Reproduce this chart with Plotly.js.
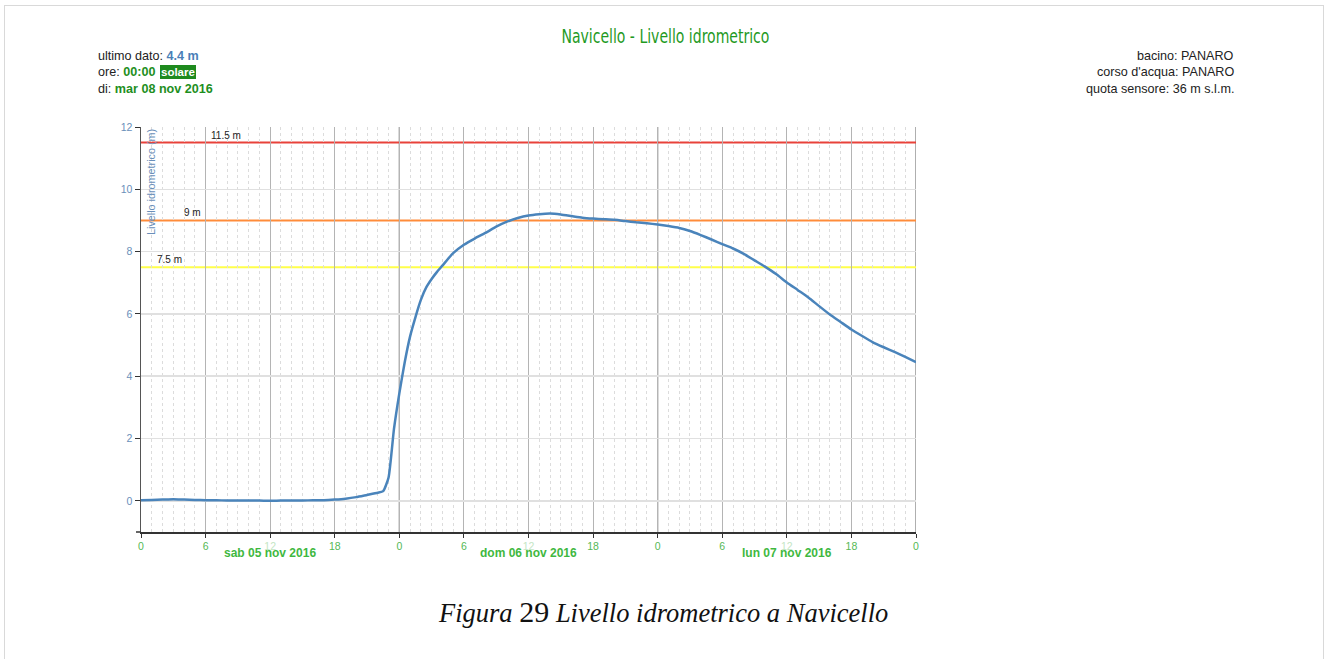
<!DOCTYPE html>
<html>
<head>
<meta charset="utf-8">
<script src="https://cdn.plot.ly/plotly-3.0.1.min.js"></script>
<style>
  html, body { margin: 0; padding: 0; background: #fff; }
  #wrap { position: relative; width: 1328px; height: 659px; overflow: hidden; }
  #chart { position: absolute; left: 0; top: 0; width: 1328px; height: 659px; }
  #frame { position: absolute; left: 4px; top: 5px; width: 1318px; height: 700px;
           border: 1px solid #d9d9d9; pointer-events: none; z-index: 10; }
</style>
</head>
<body>
<div id="wrap"><div id="chart"></div><div id="frame"></div></div>
<script>
// ---- data ----
const times = [
  "2016-11-05 00:00","2016-11-05 01:00","2016-11-05 02:00","2016-11-05 03:00","2016-11-05 04:00",
  "2016-11-05 05:00","2016-11-05 06:00","2016-11-05 07:00","2016-11-05 08:00","2016-11-05 09:00",
  "2016-11-05 10:00","2016-11-05 11:00","2016-11-05 12:00","2016-11-05 13:00","2016-11-05 14:00",
  "2016-11-05 15:00","2016-11-05 16:00","2016-11-05 17:00","2016-11-05 18:00","2016-11-05 19:00",
  "2016-11-05 20:00","2016-11-05 21:00","2016-11-05 22:00","2016-11-05 22:30","2016-11-05 23:00",
  "2016-11-05 23:30","2016-11-06 00:00","2016-11-06 00:30","2016-11-06 01:00","2016-11-06 01:30",
  "2016-11-06 02:00","2016-11-06 02:30","2016-11-06 03:00","2016-11-06 03:30","2016-11-06 04:00",
  "2016-11-06 05:00","2016-11-06 06:00","2016-11-06 07:00","2016-11-06 08:00","2016-11-06 09:00",
  "2016-11-06 10:00","2016-11-06 11:00","2016-11-06 12:00","2016-11-06 13:00","2016-11-06 14:00",
  "2016-11-06 15:00","2016-11-06 16:00","2016-11-06 17:00","2016-11-06 18:00","2016-11-06 19:00",
  "2016-11-06 20:00","2016-11-06 21:00","2016-11-06 22:00","2016-11-06 23:00","2016-11-07 00:00",
  "2016-11-07 01:00","2016-11-07 02:00","2016-11-07 03:00","2016-11-07 04:00","2016-11-07 05:00",
  "2016-11-07 06:00","2016-11-07 07:00","2016-11-07 08:00","2016-11-07 09:00","2016-11-07 10:00",
  "2016-11-07 11:00","2016-11-07 12:00","2016-11-07 13:00","2016-11-07 14:00","2016-11-07 15:00",
  "2016-11-07 16:00","2016-11-07 17:00","2016-11-07 18:00","2016-11-07 19:00","2016-11-07 20:00",
  "2016-11-07 21:00","2016-11-07 22:00","2016-11-07 23:00","2016-11-08 00:00"
];
const levels = [
  0.02,0.03,0.04,0.05,0.04,
  0.03,0.02,0.02,0.01,0.01,
  0.01,0.01,0.00,0.01,0.01,
  0.01,0.02,0.02,0.04,0.07,
  0.12,0.19,0.26,0.31,0.75,
  2.30,3.45,4.45,5.28,5.90,
  6.45,6.85,7.12,7.35,7.55,
  7.95,8.22,8.42,8.60,8.80,
  8.96,9.08,9.16,9.20,9.22,
  9.19,9.14,9.09,9.06,9.04,
  9.02,8.98,8.94,8.91,8.87,
  8.82,8.76,8.66,8.53,8.39,
  8.24,8.10,7.93,7.72,7.51,
  7.28,7.01,6.77,6.53,6.25,
  5.98,5.74,5.50,5.29,5.09,
  4.93,4.78,4.62,4.45
];
const thresholds = [11.5, 9, 7.5];
const thresholdLabels = ["11.5 m", "9 m", "7.5 m"];
const thresholdColors = ["#e8423a", "#ff8c3a", "#ffff4a"];
const thresholdLabelX = ["2016-11-05 06:18", "2016-11-05 03:48", "2016-11-05 01:18"];

const tickTimes = ["2016-11-05 00:00","2016-11-05 06:00","2016-11-05 12:00","2016-11-05 18:00",
  "2016-11-06 00:00","2016-11-06 06:00","2016-11-06 12:00","2016-11-06 18:00",
  "2016-11-07 00:00","2016-11-07 06:00","2016-11-07 12:00","2016-11-07 18:00","2016-11-08 00:00"];
const tickLabels = ["0","6","12","18","0","6","12","18","0","6","12","18","0"];
const midnights = ["2016-11-06 00:00","2016-11-07 00:00","2016-11-08 00:00"];
const dayNoon = ["2016-11-05 12:00","2016-11-06 12:00","2016-11-07 12:00"];
const dayLabels = ["sab 05 nov 2016","dom 06 nov 2016","lun 07 nov 2016"];

const titleText = "Navicello - Livello idrometrico";
const yTitle = "Livello idrometrico (m)";
const leftInfo = ["ultimo dato: ", "4.4 m", "ore: ", "00:00", "solare", "di: ", "mar 08 nov 2016"];
const rightInfo = ["bacino: PANARO", "corso d'acqua: PANARO", "quota sensore: 36 m s.l.m."];
const caption = ["Figura", "29", "Livello idrometrico a Navicello"];

// ---- layout helpers (pixel -> paper) ----
const W = 1328, H = 659;
const M = {l: 141, r: 412, t: 127, b: 127};
const PW = W - M.l - M.r, PH = H - M.t - M.b;
const px = x => (x - M.l) / PW;
const py = y => (H - M.b - y) / PH;

const tickText = tickLabels.map(t => t === "12" ? '<span style="color:#c4e6c4">12</span>' : t);

const traces = [{
  x: times, y: levels, type: "scatter", mode: "lines",
  line: {color: "#4a84bb", width: 2.5, shape: "spline", smoothing: 0.5},
  hoverinfo: "x+y", showlegend: false
}];

const shapes = [];
midnights.forEach(m => shapes.push({
  type: "line", xref: "x", yref: "paper", x0: m, x1: m, y0: 0, y1: 1,
  line: {color: "#7a7a7a", width: 1.2}, layer: "below"
}));
thresholds.forEach((t, i) => shapes.push({
  type: "line", xref: "paper", yref: "y", x0: 0, x1: 1, y0: t, y1: t,
  line: {color: thresholdColors[i], width: 2}, layer: "below"
}));
// x axis line extends slightly left of the y axis, as in the reference
shapes.push({
  type: "line", xref: "paper", yref: "paper", x0: px(136), x1: 0, y0: 0, y1: 0,
  line: {color: "#333", width: 1.5}
});

const annotations = [];
thresholds.forEach((t, i) => annotations.push({
  x: thresholdLabelX[i], y: t, xref: "x", yref: "y", xanchor: "left", yanchor: "bottom",
  yshift: 0, text: thresholdLabels[i], showarrow: false,
  font: {family: "Liberation Sans, Arial, sans-serif", size: 10, color: "#222"}
}));
dayNoon.forEach((d, i) => annotations.push({
  x: d, y: py(553), xref: "x", yref: "paper", xanchor: "center", yanchor: "middle",
  text: "<b>" + dayLabels[i] + "</b>", showarrow: false,
  font: {family: "Liberation Sans, Arial, sans-serif", size: 12, color: "#3fb83f"}
}));
annotations.push({
  x: px(151), y: 1, xref: "paper", yref: "paper", xanchor: "center", yanchor: "top",
  text: yTitle, textangle: -90, showarrow: false,
  font: {family: "Liberation Sans, Arial, sans-serif", size: 10.8, color: "#6a8fba"}
});
// header left
const hf = {family: "Liberation Sans, Arial, sans-serif", size: 12.6, color: "#222"};
annotations.push({
  x: px(96), y: py(56), xref: "paper", yref: "paper", xanchor: "left", yanchor: "middle",
  text: leftInfo[0] + '<b><span style="color:#4a7fb8">' + leftInfo[1] + '</span></b>',
  showarrow: false, font: hf
});
annotations.push({
  x: px(96), y: py(72), xref: "paper", yref: "paper", xanchor: "left", yanchor: "middle",
  text: leftInfo[2] + '<b><span style="color:#1e8f1e">' + leftInfo[3] + '</span></b>',
  showarrow: false, font: hf
});
annotations.push({
  x: px(160), y: py(72), xref: "paper", yref: "paper", xanchor: "left", yanchor: "middle",
  text: '<b>' + leftInfo[4] + '</b>', showarrow: false, bgcolor: "#1e8a1e", borderpad: 0,
  bordercolor: "#1e8a1e", borderwidth: 1,
  font: {family: "Liberation Sans, Arial, sans-serif", size: 11.5, color: "#fff"}
});
annotations.push({
  x: px(96), y: py(89), xref: "paper", yref: "paper", xanchor: "left", yanchor: "middle",
  text: leftInfo[5] + '<b><span style="color:#1e8f1e">' + leftInfo[6] + '</span></b>',
  showarrow: false, font: hf
});
// header right
[56, 72, 89].forEach((yy, i) => annotations.push({
  x: px(1236), y: py(yy), xref: "paper", yref: "paper", xanchor: "right", yanchor: "middle",
  text: rightInfo[i], showarrow: false, font: hf
}));
// title
annotations.push({
  x: px(665), y: py(36), xref: "paper", yref: "paper", xanchor: "center", yanchor: "middle",
  text: titleText, showarrow: false,
  font: {family: "DejaVu Sans Condensed, Liberation Sans, sans-serif", size: 20, color: "#1f9a1f"}
});
// caption
annotations.push({
  x: px(663), y: py(611), xref: "paper", yref: "paper", xanchor: "center", yanchor: "middle",
  text: "<i>" + caption[0] + '</i> <span style="font-size:30px">' + caption[1] + "</span> <i>" + caption[2] + "</i>",
  showarrow: false,
  font: {family: "Liberation Serif, Times New Roman, serif", size: 26.5, color: "#111"}
});

const layout = {
  width: W, height: H,
  margin: M,
  paper_bgcolor: "#fff", plot_bgcolor: "#fff",
  showlegend: false,
  xaxis: {
    type: "date",
    range: ["2016-11-05 00:00", "2016-11-08 00:00"],
    tickmode: "array", tickvals: tickTimes, ticktext: tickText,
    ticks: "outside", ticklen: 4, tickcolor: "#333",
    tickfont: {family: "Liberation Sans, Arial, sans-serif", size: 10.5, color: "#55b855"},
    showgrid: true, gridcolor: "#b4b4b4", gridwidth: 1,
    showline: true, linecolor: "#333", linewidth: 1.5,
    zeroline: false, fixedrange: true,
    minor: {tickmode: "linear", tick0: "2016-11-05 00:00", dtick: 3600000,
            showgrid: true, gridcolor: "#dcdcdc", griddash: "3px,3px", gridwidth: 1,
            ticks: "", ticklen: 0, tickcolor: "rgba(0,0,0,0)"}
  },
  yaxis: {
    range: [-1, 12], tickmode: "linear", tick0: 0, dtick: 2,
    ticks: "outside", ticklen: 5, tickcolor: "#333",
    tickfont: {family: "Liberation Sans, Arial, sans-serif", size: 10.5, color: "#6a8fba"},
    showgrid: true, gridcolor: "#e0e0e0", gridwidth: 1.5,
    showline: true, linecolor: "#555", linewidth: 1.5,
    zeroline: false, fixedrange: true
  },
  shapes: shapes,
  annotations: annotations
};

Plotly.newPlot("chart", traces, layout, {displayModeBar: false, staticPlot: true}).then(gd => {
  // condense the title text to the narrow width of the original heading
  gd.querySelectorAll(".annotation-text").forEach(t => {
    if (t.textContent === titleText) {
      t.setAttribute("textLength", "208");
      t.setAttribute("lengthAdjust", "spacingAndGlyphs");
    }
  });
});
</script>
</body>
</html>
